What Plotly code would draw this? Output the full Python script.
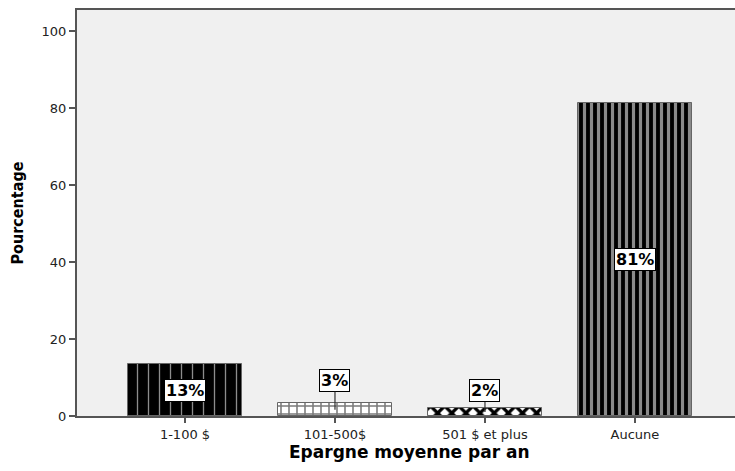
import plotly.graph_objects as go

# Average yearly savings (share of respondents, %)
categories = ["1-100 $", "101-500$", "501 $ et plus", "Aucune"]
percentages = [13.4, 3.3, 2.1, 81.2]
y_ticks = [0, 20, 40, 60, 80, 100]

# Bar fill patterns
pattern_shapes = ["|", "+", "x", "|"]
pattern_fg = ["#8c8c8c", "#7a7a7a", "#000000", "#8a8a8a"]
pattern_bg = ["#000000", "#ffffff", "#ffffff", "#000000"]
pattern_size = [11, 8, 10, 7]
pattern_solidity = [0.12, 0.35, 0.55, 0.45]
# Vertical pixel offset of value labels set above short bars (0 = centred inside)
label_offsets = [0, -29, -21, 0]

TICK_FONT = dict(family="DejaVu Sans", size=13, color="#222222")

fig = go.Figure()
for i, (cat, val) in enumerate(zip(categories, percentages)):
    fig.add_trace(go.Bar(
        x=[cat], y=[val], width=0.76,
        marker=dict(
            color=pattern_bg[i],
            line=dict(color="#666666", width=1),
            pattern=dict(shape=pattern_shapes[i], fgcolor=pattern_fg[i],
                         bgcolor=pattern_bg[i], size=pattern_size[i],
                         solidity=pattern_solidity[i], fillmode="replace"),
        ),
        showlegend=False, hoverinfo="skip",
    ))

# Value labels: inside tall bars, above short bars with a leader line
for cat, val, off in zip(categories, percentages, label_offsets):
    common = dict(text=f"<b>{val:.0f}%</b>", bgcolor="white", bordercolor="black",
                  borderwidth=1, borderpad=1,
                  font=dict(family="DejaVu Sans", size=16, color="black"))
    if off == 0:
        fig.add_annotation(x=cat, y=val / 2, showarrow=False, **common)
    else:
        fig.add_annotation(x=cat, y=val / 2, ax=0, ay=off,
                           showarrow=True, arrowhead=0, arrowwidth=1.2,
                           arrowcolor="#333333", standoff=0, **common)

fig.add_annotation(text="<b>Epargne moyenne par an</b>", xref="paper", yref="paper",
                   x=0.505, y=-0.058, yanchor="top", showarrow=False,
                   font=dict(family="DejaVu Sans", size=17, color="black"))

fig.update_layout(
    width=735, height=471,
    margin=dict(l=77, r=0, t=10, b=55),
    paper_bgcolor="white", plot_bgcolor="#f0f0f0",
    font=dict(family="DejaVu Sans", size=13, color="#222222"),
    bargap=0,
)
fig.update_xaxes(
    type="category", range=[-0.72, 3.667],
    showline=True, linecolor="#555555", linewidth=2, mirror=True,
    ticks="outside", ticklen=5, tickcolor="#555555", tickwidth=2,
    showgrid=False, zeroline=False, tickfont=TICK_FONT,
)
fig.update_yaxes(
    range=[0, 105.45], tickvals=y_ticks,
    showline=True, linecolor="#555555", linewidth=2,
    ticks="outside", ticklen=6, tickcolor="#555555", tickwidth=2,
    showgrid=False, zeroline=False, tickfont=TICK_FONT,
    title=dict(text="<b>Pourcentage</b>", standoff=14,
               font=dict(family="Liberation Sans Narrow, DejaVu Sans Condensed, Arial",
                         size=16, color="black")),
)

fig.write_html("out.html")
